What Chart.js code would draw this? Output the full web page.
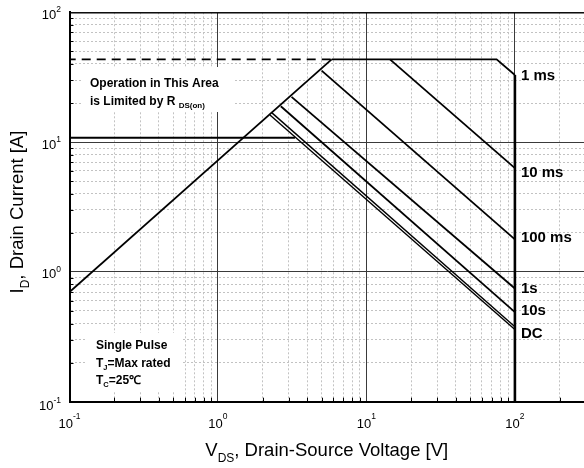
<!DOCTYPE html>
<html><head><meta charset="utf-8">
<script src="https://cdn.jsdelivr.net/npm/chart.js@4/dist/chart.umd.min.js"></script>
<style>html,body{margin:0;padding:0;background:#fff}#wrap{width:584px;height:468px;position:relative}</style>
</head><body><div id="wrap"><canvas id="c" width="584" height="468"></canvas></div>
<script>
// ---- axis data ----
const xRange = [0.1, 292];
const yRange = [0.1, 100];
const xDecades = [0.1, 1, 10, 100];
const xDecadeExps = ['-1', '0', '1', '2'];
const yDecades = [0.1, 1, 10, 100];
const yDecadeExps = ['-1', '0', '1', '2'];
const minorMultipliers = [1, 2, 3, 4, 5, 6, 7, 8, 9];

// ---- curve data (V in volts, I in amps) ----
const rdsV = [0.1, 5.83];        const rdsI = [0.70, 43.4];
const envV = [5.83, 75.3, 100];  const envI = [43.4, 43.4, 32.9];
const vmaxV = [100, 100];        const vmaxI = [32.9, 0.1];
const dashV = [0.1, 5.83];       const dashI = [43.4, 43.4];
const pkgV = [0.1, 3.3];         const pkgI = [10.8, 10.8];
const ms10V = [14.4, 100];       const ms10I = [43.4, 6.3];
const ms100V = [4.99, 100];      const ms100I = [35.5, 1.78];
const s1V = [3.13, 100];         const s1I = [22.3, 0.745];
const s10V = [2.65, 100];        const s10I = [18.9, 0.49];
const dcaV = [2.24, 100];        const dcaI = [16.2, 0.36];
const dcbV = [2.31, 100];        const dcbI = [16.8, 0.378];

const curveLabels = ['1 ms', '10 ms', '100 ms', '1s', '10s', 'DC'];
const curveLabelI = [32.1, 5.81, 1.82, 0.736, 0.498, 0.331];
const curveLabelV = 100;

const F = "'Liberation Sans', Arial, Helvetica, sans-serif";

function isDecade(v) {
  const l = Math.log10(v);
  return Math.abs(l - Math.round(l)) < 1e-9;
}
function gridValues(decades, max) {
  const out = [];
  decades.forEach(d => minorMultipliers.forEach(m => {
    const v = +(d * m).toPrecision(6);
    if (v <= max + 1e-9) out.push(v);
  }));
  if (decades[decades.length - 1] * 10 <= max) {}
  return out;
}
const xGrid = gridValues(xDecades.concat([1000]), xRange[1]).filter(v => v >= xRange[0]);
const yGrid = gridValues(yDecades, yRange[1]).filter(v => v >= yRange[0]);

const pts = (V, I) => V.map((v, i) => ({ x: v, y: I[i] }));

function ds(V, I, extra) {
  return Object.assign({
    data: pts(V, I), borderColor: '#000', borderWidth: 1.8,
    pointRadius: 0, fill: false, tension: 0, showLine: true
  }, extra || {});
}

function setFont(ctx, r) {
  ctx.font = (r.bold ? 'bold ' : '') + r.size + 'px ' + F;
}
function runsWidth(ctx, runs) {
  let w = 0;
  runs.forEach(r => { setFont(ctx, r); w += ctx.measureText(r.t).width; });
  return w;
}
function drawRuns(ctx, x, y, runs) {
  let cx = x;
  runs.forEach(r => {
    setFont(ctx, r);
    ctx.fillText(r.t, cx, y + (r.dy || 0));
    cx += ctx.measureText(r.t).width;
  });
}

const gridColor = c => {
  const v = c.tick ? c.tick.value : null;
  if (v == null) return '#000';
  return isDecade(v) ? '#3a3a3a' : '#c2c2c2';
};
const gridDash = c => (c.tick && !isDecade(c.tick.value)) ? [2, 2] : [];

const decorPlugin = {
  id: 'decor',
  beforeDatasetsDraw(chart) {
    const ctx = chart.ctx;
    ctx.save();
    ctx.fillStyle = '#fff';
    ctx.fillRect(82, 67, 151, 45);
    ctx.fillRect(86, 333, 96, 59);
    ctx.restore();
  },
  afterDraw(chart) {
    const ctx = chart.ctx;
    const xs = chart.scales.x, ys = chart.scales.y;
    const a = chart.chartArea;
    ctx.save();
    // top border
    ctx.strokeStyle = '#000';
    ctx.lineWidth = 1.3;
    ctx.beginPath(); ctx.moveTo(a.left, a.top + 0.5); ctx.lineTo(a.right, a.top + 0.5); ctx.stroke();
    // inner minor ticks
    ctx.lineWidth = 1;
    ctx.beginPath();
    xGrid.filter(v => !isDecade(v)).forEach(v => {
      const px = Math.round(xs.getPixelForValue(v)) + 0.5;
      ctx.moveTo(px, a.bottom); ctx.lineTo(px, a.bottom - 4);
    });
    yGrid.filter(v => !isDecade(v)).forEach(v => {
      const py = Math.round(ys.getPixelForValue(v)) + 0.5;
      ctx.moveTo(a.left, py); ctx.lineTo(a.left + 4, py);
    });
    ctx.stroke();

    ctx.fillStyle = '#000';
    ctx.textAlign = 'left';
    ctx.textBaseline = 'alphabetic';
    // x tick labels
    xDecades.forEach((v, i) => {
      const runs = [{ t: '10', size: 13 }, { t: xDecadeExps[i], size: 8.5, dy: -8.5 }];
      const w = runsWidth(ctx, runs);
      const px = xs.getPixelForValue(v);
      drawRuns(ctx, px - w / 2, 427.7, runs);
    });
    // y tick labels
    yDecades.forEach((v, i) => {
      const runs = [{ t: '10', size: 13 }, { t: yDecadeExps[i], size: 8.5, dy: -6.5 }];
      const w = runsWidth(ctx, runs);
      const py = ys.getPixelForValue(v);
      drawRuns(ctx, 61 - w, py + (i === 0 ? 8 : 6.5), runs);
    });
    // x title
    const xt = [{ t: 'V', size: 18.5 }, { t: 'DS', size: 12, dy: 6 }, { t: ', Drain-Source Voltage [V]', size: 18.5 }];
    const xw = runsWidth(ctx, xt);
    drawRuns(ctx, (a.left + a.right) / 2 - xw / 2, 456, xt);
    // y title
    const yt = [{ t: 'I', size: 18.5 }, { t: 'D', size: 12, dy: 6 }, { t: ', Drain Current [A]', size: 18.5 }];
    const yw = runsWidth(ctx, yt);
    ctx.save();
    ctx.translate(23, 212);
    ctx.rotate(-Math.PI / 2);
    drawRuns(ctx, -yw / 2, 0, yt);
    ctx.restore();

    // curve labels
    const lx = xs.getPixelForValue(curveLabelV) + 6;
    ctx.textBaseline = 'middle';
    curveLabels.forEach((t, i) => {
      ctx.font = 'bold 15px ' + F;
      ctx.fillText(t, lx, ys.getPixelForValue(curveLabelI[i]));
    });
    ctx.textBaseline = 'alphabetic';

    // annotation boxes
    drawRuns(ctx, 90, 86.5, [{ t: 'Operation in This Area', size: 12, bold: true }]);
    drawRuns(ctx, 90, 104.5, [{ t: 'is Limited by R ', size: 12, bold: true }, { t: 'DS(on)', size: 8, bold: true, dy: 3 }]);
    drawRuns(ctx, 96, 349, [{ t: 'Single Pulse', size: 12, bold: true }]);
    drawRuns(ctx, 96, 367, [{ t: 'T', size: 12, bold: true }, { t: 'J', size: 7.5, bold: true, dy: 3 }, { t: '=Max rated', size: 12, bold: true }]);
    drawRuns(ctx, 96, 384, [{ t: 'T', size: 12, bold: true }, { t: 'C', size: 7.5, bold: true, dy: 3 }, { t: '=25\u2103', size: 12, bold: true }]);
    ctx.restore();
  }
};

new Chart(document.getElementById('c'), {
  type: 'line',
  data: {
    datasets: [
      ds(rdsV, rdsI),
      ds(envV, envI),
      ds(vmaxV, vmaxI, { borderWidth: 2.6 }),
      ds(dashV, dashI, { borderDash: [9, 6], borderDashOffset: 2.8 }),
      ds(pkgV, pkgI, { borderWidth: 2.2 }),
      ds(ms10V, ms10I),
      ds(ms100V, ms100I),
      ds(s1V, s1I),
      ds(s10V, s10I),
      ds(dcaV, dcaI, { borderWidth: 1.4 }),
      ds(dcbV, dcbI, { borderWidth: 1.4 })
    ]
  },
  options: {
    responsive: false,
    animation: false,
    events: [],
    layout: { padding: { top: 12.3, left: 0, right: 0, bottom: 0 } },
    plugins: { legend: { display: false }, tooltip: { enabled: false } },
    scales: {
      x: {
        type: 'logarithmic', position: 'bottom',
        min: xRange[0], max: xRange[1],
        afterBuildTicks: s => { s.ticks = xGrid.map(v => ({ value: v })); },
        afterFit: s => { s.height = 66.3; },
        ticks: { display: false },
        grid: { drawTicks: false, color: gridColor, lineWidth: 1 },
        border: { display: true, color: '#000', width: 2, dash: gridDash }
      },
      y: {
        type: 'logarithmic', position: 'left',
        min: yRange[0], max: yRange[1],
        afterBuildTicks: s => { s.ticks = yGrid.map(v => ({ value: v })); },
        afterFit: s => { s.width = 69.5; },
        ticks: { display: false },
        grid: { drawTicks: false, color: gridColor, lineWidth: 1 },
        border: { display: true, color: '#000', width: 2, dash: gridDash }
      }
    }
  },
  plugins: [decorPlugin]
});
</script>
</body></html>
